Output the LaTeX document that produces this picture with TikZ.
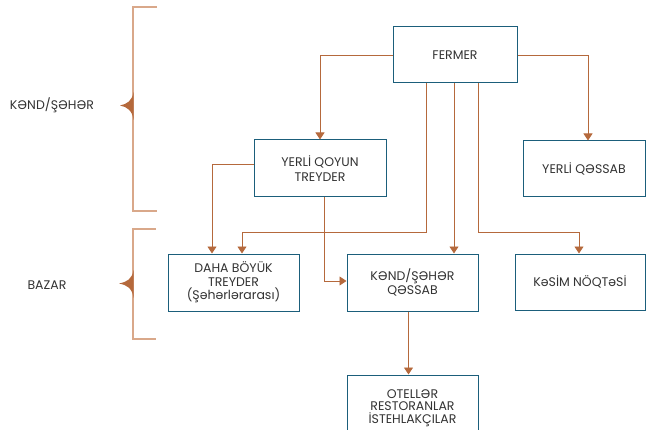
\documentclass[tikz,border=0pt]{standalone}
\usepackage{fontspec}
\setmainfont{Poppins}
\usetikzlibrary{arrows.meta}
\definecolor{boxc}{HTML}{1B5E7B}
\definecolor{arrc}{HTML}{B5693C}
\definecolor{brkc}{HTML}{D9A88A}
\definecolor{txtc}{HTML}{333333}
\tikzset{
  box/.style={draw=boxc, line width=1pt, fill=white, align=center, inner sep=0pt,
    text=txtc, font=\fontsize{12.5}{13.3}\selectfont},
  arr/.style={draw=arrc, line width=0.9pt, -{Triangle[width=9pt,length=7pt]}},
  brk/.style={draw=brkc, line width=1.2pt},
  tri/.style={fill=arrc},
  lbl/.style={text=txtc, font=\fontsize{12.5}{13}\selectfont, inner sep=0pt}
}
\begin{document}
\begin{tikzpicture}[x=1pt,y=-1pt]
\useasboundingbox (0,0) rectangle (647,430);
\clip (0,0) rectangle (647,430);
% boxes
\node[box, minimum width=124pt, minimum height=56pt] (fermer) at (455,55) {FERMER};
\node[box, minimum width=132pt, minimum height=57pt, font=\fontsize{12.5}{15}\selectfont] (yqt) at (320,168.5) {YERLİ QOYUN\\TREYDER};
\node[box, minimum width=122pt, minimum height=56pt] (yq) at (584,169) {YERLİ QƏSSAB};
\node[box, minimum width=131pt, minimum height=57pt] (daha) at (233.5,282.5) {DAHA BÖYÜK\\TREYDER\\(Şəhərlərarası)};
\node[box, minimum width=131pt, minimum height=57pt] (kq) at (412.5,282.5) {KƏND/ŞƏHƏR\\QƏSSAB};
\node[box, minimum width=130pt, minimum height=56pt] (kesim) at (580,282) {KəSİM NÖQTəSİ};
\node[box, minimum width=131pt, minimum height=66pt, font=\fontsize{12.5}{12.5}\selectfont] (otel) at (412.5,408) {OTELLƏR\\RESTORANLAR\\İSTEHLAKÇILAR};
% helper levels
\coordinate (lvl) at (0,232);
% connectors
\draw[arr] (fermer.west) -| (yqt.north);
\draw[arr] (fermer.east) -| ([xshift=4pt]yq.north);
\draw[arr] ([xshift=-29pt]fermer.south) |- ([xshift=8.5pt]daha.north |- lvl) -- ([xshift=8.5pt]daha.north);
\draw[arr] ([xshift=-1pt]fermer.south) -- ([xshift=-1pt]fermer.south |- kq.north);
\draw[arr] ([xshift=23pt]fermer.south) |- ([xshift=-1pt]kesim.north |- lvl) -- ([xshift=-1pt]kesim.north);
\draw[arr] ([yshift=4.5pt]yqt.west) -| ([xshift=-21.5pt]daha.north);
\draw[arr] ([xshift=4pt]yqt.south) |- ([yshift=1.5pt]kq.west);
\draw[arr] ([xshift=-4pt]kq.south) -- ([xshift=-4pt]kq.south |- otel.north);
% brackets
\draw[brk] (157,7) -- (133,7) -- (133,211) -- (157,211);
\fill[tri] (133.6,92) .. controls (132,101) and (127,104) .. (120,105.5) .. controls (127,107) and (132,110) .. (133.6,120) -- cycle;
\draw[brk] (156,229) -- (133,229) -- (133,339) -- (156,339);
\fill[tri] (133.6,270) .. controls (132,279) and (127,282) .. (119,283.5) .. controls (127,285) and (132,288) .. (133.6,298) -- cycle;
\node[lbl] (l1) at (52,105) {KƏND/ŞƏHƏR};
\node[lbl] (l2) at (47,285) {BAZAR};
\end{tikzpicture}
\end{document}
